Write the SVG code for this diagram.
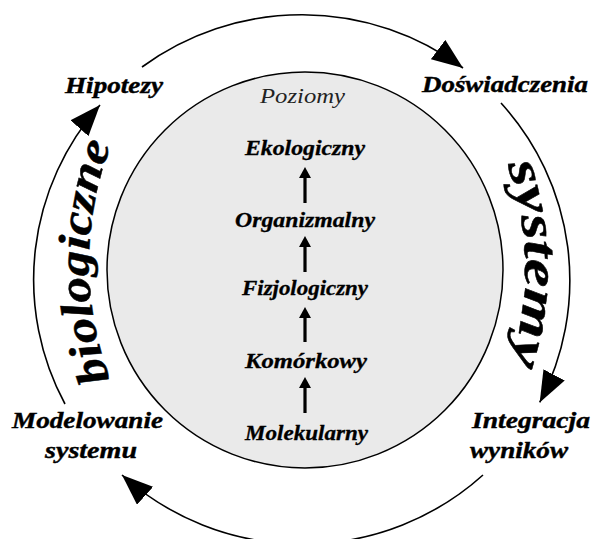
<svg xmlns="http://www.w3.org/2000/svg" width="592" height="539" viewBox="0 0 592 539">
<style>
text{font-family:"Liberation Serif","Times New Roman",serif}
.lbl{font-weight:bold;font-style:italic;font-size:23px;fill:#000;stroke:#000;stroke-width:0.4}
.lvl{font-weight:bold;font-style:italic;font-size:20px;fill:#000;stroke:#000;stroke-width:0.3}
.big{font-weight:bold;font-style:italic;fill:#000;stroke:#000;stroke-width:0.5}
.pz{font-style:italic;font-size:21px;fill:#222}
.arc{fill:none;stroke:#000;stroke-width:1.6;marker-end:url(#bigArrow)}
.up{fill:none;stroke:#000;stroke-width:3.2;marker-end:url(#smallArrow)}
</style>
<defs>
<marker id="bigArrow" markerUnits="userSpaceOnUse" markerWidth="31" markerHeight="24" refX="31" refY="12" orient="auto">
<path d="M0,0 L31,12 L0,24 z" fill="#000"/>
</marker>
<marker id="smallArrow" markerUnits="userSpaceOnUse" markerWidth="11" markerHeight="12" refX="0" refY="6" orient="auto">
<path d="M0,0 L11,6 L0,12 z" fill="#000"/>
</marker>
<path id="bioPath" d="M 110 379 A 330 330 0 0 1 113 140"/>
<path id="sysPath" d="M 507.3 165 A 308 308 0 0 1 508.3 368"/>
</defs>
<rect width="592" height="539" fill="#fff"/>

<g id="levels">
<circle cx="305" cy="270" r="198" fill="#eaeaea" stroke="#000" stroke-width="1.5"/>
<text class="pz" x="260" y="103" textLength="85" lengthAdjust="spacingAndGlyphs">Poziomy</text>
</g>

<g id="ekologiczny"><text class="lvl" x="245" y="155" textLength="120" lengthAdjust="spacingAndGlyphs">Ekologiczny</text></g>
<g id="organizmalny"><text class="lvl" x="235" y="227" textLength="140" lengthAdjust="spacingAndGlyphs">Organizmalny</text></g>
<g id="fizjologiczny"><text class="lvl" x="242" y="295" textLength="126" lengthAdjust="spacingAndGlyphs">Fizjologiczny</text></g>
<g id="komorkowy"><text class="lvl" x="245" y="368" textLength="122" lengthAdjust="spacingAndGlyphs">Komórkowy</text></g>
<g id="molekularny"><text class="lvl" x="245" y="440" textLength="123" lengthAdjust="spacingAndGlyphs">Molekularny</text></g>

<g id="hipotezy"><text class="lbl" x="65" y="93" textLength="98" lengthAdjust="spacingAndGlyphs">Hipotezy</text></g>
<g id="doswiadczenia"><text class="lbl" x="422" y="92" textLength="166" lengthAdjust="spacingAndGlyphs">Doświadczenia</text></g>
<g id="integracja">
<text class="lbl" x="472" y="428" textLength="118" lengthAdjust="spacingAndGlyphs">Integracja</text>
<text class="lbl" x="470" y="458" textLength="98" lengthAdjust="spacingAndGlyphs">wyników</text>
</g>
<g id="modelowanie">
<text class="lbl" x="12" y="428" textLength="151" lengthAdjust="spacingAndGlyphs">Modelowanie</text>
<text class="lbl" x="45" y="458" textLength="92" lengthAdjust="spacingAndGlyphs">systemu</text>
</g>

<g id="biologiczne"><text class="big" font-size="45"><textPath href="#bioPath" textLength="239" lengthAdjust="spacingAndGlyphs">biologiczne</textPath></text></g>
<g id="systemy"><text class="big" font-size="49"><textPath href="#sysPath" textLength="202" lengthAdjust="spacingAndGlyphs">systemy</textPath></text></g>

<g id="connectors">
<path class="arc" d="M 142 67 A 268 265 0 0 1 463 68"/>
<path class="arc" d="M 501 103 A 268 265 0 0 1 539.7 402.4"/>
<path class="arc" d="M 483 475 A 268 265 0 0 1 122 475"/>
<path class="arc" d="M 65 404 A 268 265 0 0 1 100 105"/>
<line class="up" x1="305" y1="203" x2="305" y2="178"/>
<line class="up" x1="305" y1="272" x2="305" y2="247"/>
<line class="up" x1="305" y1="342" x2="305" y2="318"/>
<line class="up" x1="305" y1="413" x2="305" y2="388"/>
</g>
</svg>
